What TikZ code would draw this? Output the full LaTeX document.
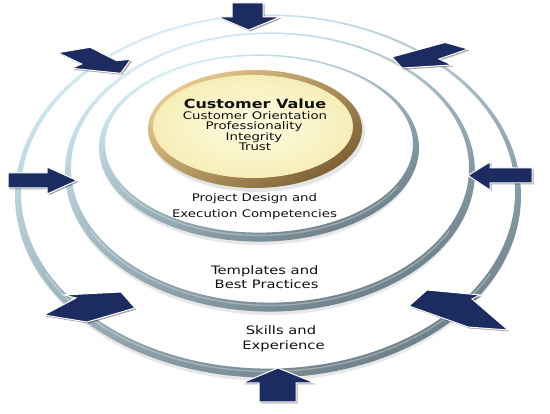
\documentclass[tikz,border=0pt]{standalone}
\usepackage{fontspec}
\setmainfont{DejaVu Sans}[FakeStretch=1.27]
\definecolor{navy}{HTML}{1D2C60}
\definecolor{ringtop}{HTML}{D3ECF6}
\definecolor{ringbot}{HTML}{6D8089}
\definecolor{rimlight}{HTML}{E6C98C}
\definecolor{rimdark}{HTML}{7E6236}
\definecolor{facein}{HTML}{FFFCE3}
\definecolor{faceout}{HTML}{F6EEB8}
\definecolor{txt}{HTML}{111111}
\tikzset{
  blockarrow/.style={fill=navy, draw=white, line width=1pt, line join=miter,
    preaction={fill=black, opacity=.35, transform canvas={xshift=1.5pt,yshift=-1.5pt}}},
  ringband/.style={even odd rule, top color=ringtop, bottom color=ringbot, shading angle=25},
  ringshine/.style={draw=white, opacity=.3, line width=1.3pt},
  cvtitle/.style={text=txt, font=\fontsize{12.6}{14}\selectfont\bfseries, anchor=base},
  cvline/.style={text=txt, font=\fontsize{10.5}{12}\selectfont, anchor=base},
  lvlA/.style={text=txt, font=\fontsize{10.5}{12}\selectfont, anchor=base},
  lvlB/.style={text=txt, font=\fontsize{11.6}{13}\selectfont},
}
\newcommand{\myring}[4]{%
  \fill[black!18, opacity=.5] (#1,#2+5) ellipse [x radius=#3+2, y radius=#4+3];
  \fill[white] (#1,#2+1) ellipse [x radius=#3-2, y radius=#4-1];
  \shade[ringband] (#1,#2+2) ellipse [x radius=#3+3, y radius=#4+2.6]
                   (#1,#2-1.75) ellipse [x radius=#3-3, y radius=#4-2.65];
  \begin{scope}
    \clip (#1-#3-10,#2+0.45*#4) rectangle (#1+#3+10,#2+#4+10);
    \draw[ringshine] (#1,#2-0.6) ellipse [x radius=#3-1, y radius=#4-1];
  \end{scope}}
\begin{document}
\begin{tikzpicture}[x=1pt, y=-1pt]
\useasboundingbox (0,0) rectangle (550,414);
\fill[white] (0,0) rectangle (550,414);
% rings
\myring{268}{194}{250}{179}
\myring{270}{170}{202}{137}
\myring{259}{146}{157}{91}
% gold disc
\fill[black!20, opacity=.5] (257,132) ellipse [x radius=108, y radius=60];
\shade[top color=rimlight, bottom color=rimdark, shading angle=35]
  (255,129) ellipse [x radius=107, y radius=59];
\shade[inner color=facein, outer color=faceout]
  (253,126.5) ellipse [x radius=100, y radius=51.5];
% texts
\node[cvtitle] (cv) at (255,108.5) {Customer Value};
\node[cvline] (co) at (255,119.5) {Customer Orientation};
\node[cvline] (pr) at (254,130) {Professionality};
\node[cvline] (in) at (254,140.5) {Integrity};
\node[cvline] (tr) at (255,151) {Trust};
\node[lvlA] (pd1) at (254.5,201.7) {Project Design and};
\node[lvlA] (pd2) at (254.5,217.3) {Execution Competencies};
\node[lvlB, anchor=base east] (tp1) at (322,275) {Templates and};
\node[lvlB, anchor=base east] (tp2) at (322,288.3) {Best Practices};
\node[lvlB, anchor=base] (sk1) at (281,335) {Skills and};
\node[lvlB, anchor=base] (sk2) at (283.5,349.3) {Experience};
% arrows
\path[blockarrow] (232,3) -- (263,3) -- (263,17) -- (280,17) -- (248.5,30) -- (218,17) -- (232,17) -- cycle;
\path[blockarrow] (259,402) -- (296,402) -- (296,383) -- (315,383) -- (278,368) -- (242,383) -- (259,383) -- cycle;
\path[blockarrow] (8,173) -- (47,173) -- (47,167) -- (77,180.5) -- (47,194) -- (47,188) -- (8,188) -- cycle;
\path[blockarrow] (532,168) -- (490,168) -- (490,162) -- (468,175.5) -- (490,190) -- (490,183) -- (532,183) -- cycle;
\path[blockarrow] (58,52.7) -- (90,47.3) -- (116.7,60.7) -- (130.7,59.3) -- (120.7,73.3) -- (71.7,68.3) -- (81.7,64) -- cycle;
\path[blockarrow] (445,42.5) -- (392,57) -- (402,68) -- (452,65) -- (439,59) -- (468,49) -- cycle;
\path[blockarrow] (44,315) -- (76,298) -- (64,295) -- (121,292) -- (135,308) -- (87,322) -- cycle;
\path[blockarrow] (409,306) -- (427,290) -- (480,295) -- (472,299) -- (508,330) -- (468,327) -- cycle;
\end{tikzpicture}
\end{document}
